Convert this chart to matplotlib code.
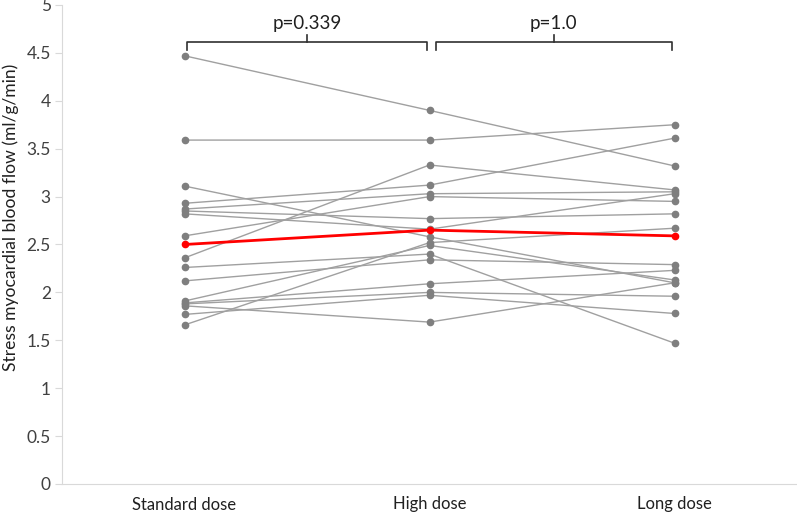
import numpy as np
import matplotlib
matplotlib.use('Agg')
import matplotlib.pyplot as plt

# categories and per-subject values
doses = ['Standard dose', 'High dose', 'Long dose']
standard = [4.47, 3.59, 3.11, 2.93, 2.87, 2.85, 2.82, 2.59, 2.36, 2.26, 2.12,
            1.91, 1.89, 1.88, 1.86, 1.77, 1.66]
high = [3.90, 3.59, 2.58, 3.12, 3.03, 2.77, 2.66, 3.00, 3.33, 2.40, 2.34,
        2.49, 2.09, 2.00, 1.69, 1.97, 2.52]
long_ = [3.32, 3.75, 2.10, 3.61, 3.05, 2.82, 3.03, 2.95, 3.07, 1.47, 2.29,
         2.13, 2.23, 1.96, 2.10, 1.78, 2.67]
mean_flow = [2.50, 2.65, 2.59]
p_labels = ['p=0.339', 'p=1.0']
yticks = [0, 0.5, 1, 1.5, 2, 2.5, 3, 3.5, 4, 4.5, 5]

plt.rcParams['font.family'] = ['Lato', 'DejaVu Sans']

fig = plt.figure(figsize=(7.97, 5.16), dpi=100)
ax = fig.add_axes([62/797, 32/516, 735/797, 479/516])

x = np.arange(len(doses))
for s, h, l in zip(standard, high, long_):
    ax.plot(x, [s, h, l], color='#a0a0a0', lw=1.0, marker='o', ms=4.5,
            mfc='#7f7f7f', mec='#7f7f7f', zorder=2)
ax.plot(x, mean_flow, color='#ff0000', lw=2.0, marker='o', ms=4.5, zorder=3)

ax.set_xlim(-0.5, 2.5)
ax.set_ylim(0, 5)
ax.set_yticks(yticks)
ax.set_yticklabels([('%g' % t) for t in yticks], fontsize=12.5, color='#404040')
ax.set_xticks(x)
ax.set_xticklabels(doses, fontsize=12, color='#202020')
ax.tick_params(axis='x', length=0, pad=9)
ax.tick_params(axis='y', length=5, color='#d9d9d9', pad=3)
for sp in ['top', 'right']:
    ax.spines[sp].set_visible(False)
for sp in ['left', 'bottom']:
    ax.spines[sp].set_color('#d9d9d9')
# y label placed by hand so it sits where the reference has it
fig.text(11/797, 0.578, 'Stress myocardial blood flow (ml/g/min)', rotation=90,
         ha='center', va='center', fontsize=12.6, color='#202020')

# brackets with p-values
y_br, y_end, y_mid = 4.61, 4.53, 4.69
for i, lab in enumerate(p_labels):
    x0, x1 = i + 0.01, i + 0.99
    if i == 1:
        x0 = i + 0.025
    xm = (x0 + x1) / 2
    ax.plot([x0, x0, x1, x1], [y_end, y_br, y_br, y_end], color='#303030',
            lw=1.2, clip_on=False, solid_joinstyle='round')
    ax.plot([xm, xm], [y_br, y_mid], color='#303030', lw=1.2, clip_on=False)
    ax.text(xm, y_mid + 0.03, lab, ha='center', va='bottom', fontsize=13.5,
            color='#202020')

fig.savefig('out.png', dpi=100)
